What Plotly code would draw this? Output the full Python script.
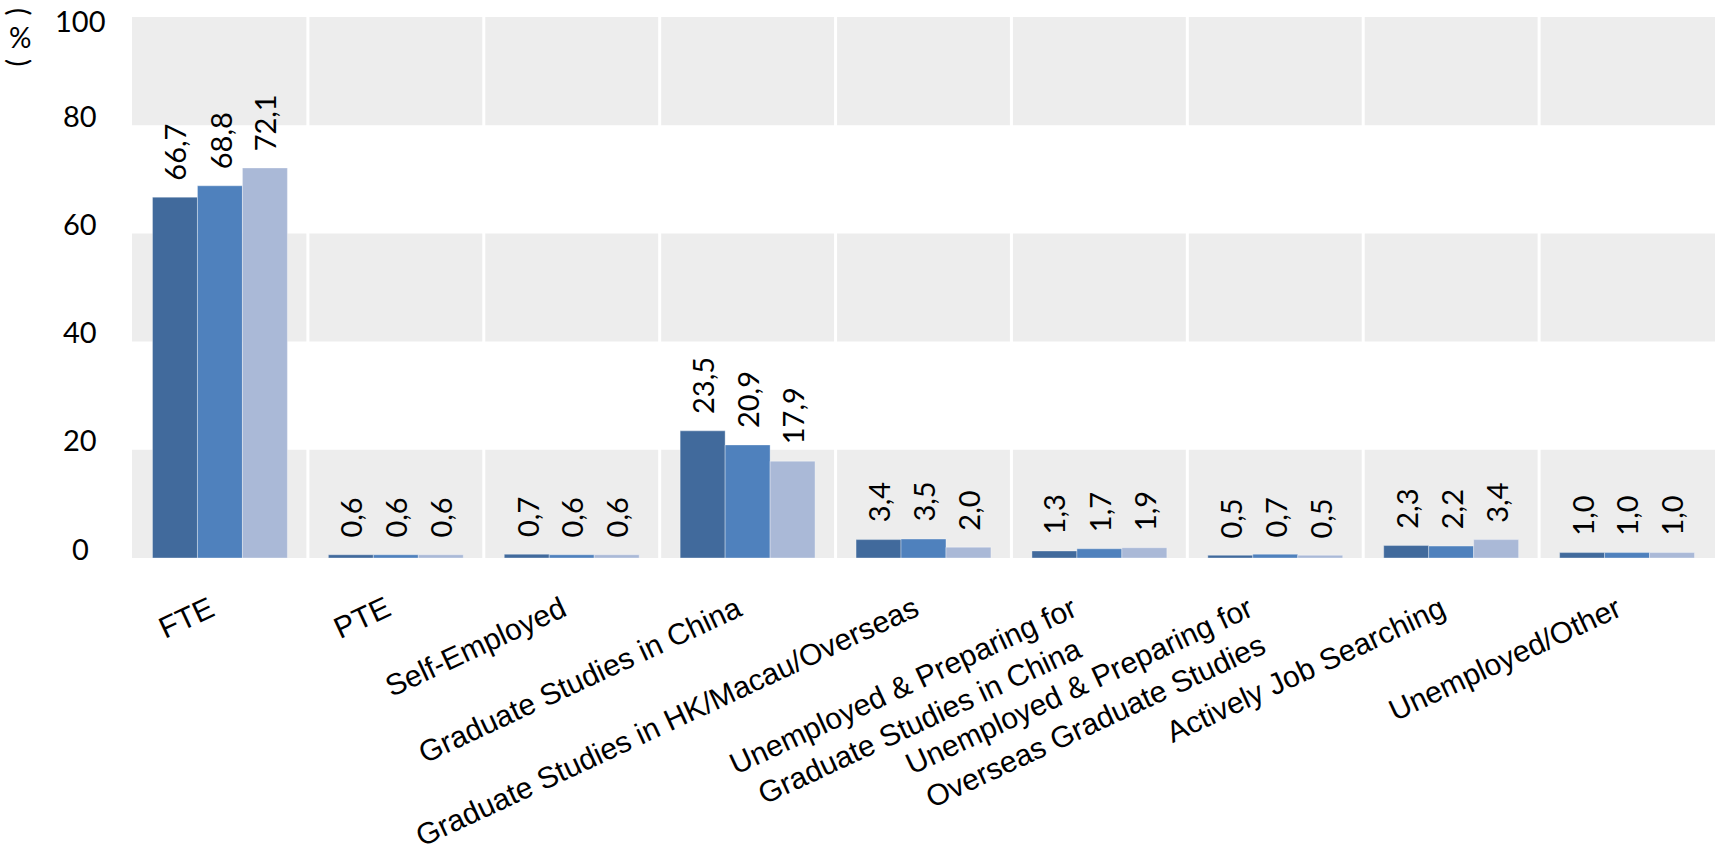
import plotly.graph_objects as go

# Graduate destinations, three cohorts (%)
categories = [
    "FTE",
    "PTE",
    "Self-Employed",
    "Graduate Studies in China",
    "Graduate Studies in HK/Macau/Overseas",
    "Unemployed & Preparing for<br>Graduate Studies in China",
    "Unemployed & Preparing for<br>Overseas Graduate Studies",
    "Actively Job Searching",
    "Unemployed/Other",
]
cohort_1 = [66.7, 0.6, 0.7, 23.5, 3.4, 1.3, 0.5, 2.3, 1.0]
cohort_2 = [68.8, 0.6, 0.6, 20.9, 3.5, 1.7, 0.7, 2.2, 1.0]
cohort_3 = [72.1, 0.6, 0.6, 17.9, 2.0, 1.9, 0.5, 3.4, 1.0]
y_ticks = [0, 20, 40, 60, 80, 100]

series = [
    ("Cohort 1", cohort_1, "#416A9C"),
    ("Cohort 2", cohort_2, "#4F81BD"),
    ("Cohort 3", cohort_3, "#AAB9D7"),
]

W, H = 1715, 865
M_L, M_R, M_T, M_B = 132, 0, 17, 307
BARGAP = 0.233
bar_w = (1 - BARGAP) / len(series)

label_font = "Lato, 'Open Sans', sans-serif"
cat_font = "'Liberation Sans', Arial, sans-serif"

x_idx = list(range(len(categories)))

fig = go.Figure()
for name, vals, color in series:
    fig.add_trace(go.Bar(
        x=x_idx, y=vals, name=name,
        marker=dict(color=color, line=dict(color="rgba(255,255,255,0.35)", width=1)),
        showlegend=False, hoverinfo="y",
    ))

shapes = []
# alternating grey bands behind the bars
for lo, hi in [(0, 20), (40, 60), (80, 100)]:
    shapes.append(dict(type="rect", xref="paper", yref="y", x0=0, x1=1, y0=lo, y1=hi,
                       fillcolor="#EDEDED", line=dict(width=0), layer="below"))
# white separators between categories
for i in range(len(categories) - 1):
    shapes.append(dict(type="line", xref="x", yref="y", x0=i + 0.5, x1=i + 0.5, y0=0, y1=100,
                       line=dict(color="white", width=3), layer="below"))

annotations = []
# value labels, rotated, decimal comma
for k, (name, vals, color) in enumerate(series):
    off = (k - (len(series) - 1) / 2) * bar_w
    for i, v in enumerate(vals):
        annotations.append(dict(
            x=i + off, y=v, xref="x", yref="y",
            text=f"{v:.1f}".replace(".", ","),
            textangle=-90, showarrow=False,
            xanchor="center", yanchor="bottom", yshift=15,
            font=dict(family=label_font, size=29, color="#000000"),
        ))

# category labels
for i, c in enumerate(categories):
    annotations.append(dict(
        x=i, y=0, xref="x", yref="y", text=c, textangle=-25, showarrow=False,
        xanchor="right", yanchor="top", yshift=-30, xshift=2, align="center",
        font=dict(family=cat_font, size=30, color="#000000"),
    ))

# y tick labels (sit slightly above their gridlines)
plot_w = W - M_L - M_R
for t in y_ticks:
    annotations.append(dict(
        x=(80 - M_L) / plot_w, y=t, xref="paper", yref="y", text=str(t), showarrow=False,
        xanchor="center", yanchor="middle", yshift=-3 if t == 100 else 10,
        font=dict(family=label_font, size=29, color="#000000"),
    ))

# vertical unit label "(%)"
plot_h = H - M_T - M_B
def py(pix):
    return (H - M_B - pix) / plot_h
unit_left = (1 - M_L) / plot_w
annotations += [
    dict(x=unit_left, y=py(11), xref="paper", yref="paper", text="(", textangle=90, showarrow=False,
         xanchor="left", yanchor="middle", font=dict(family=label_font, size=28, color="#000000")),
    dict(x=(20 - M_L) / plot_w, y=py(37), xref="paper", yref="paper", text="%", showarrow=False,
         xanchor="center", yanchor="middle", font=dict(family=label_font, size=28, color="#000000")),
    dict(x=unit_left, y=py(62), xref="paper", yref="paper", text=")", textangle=90, showarrow=False,
         xanchor="left", yanchor="middle", font=dict(family=label_font, size=28, color="#000000")),
]

fig.update_layout(
    width=W, height=H,
    margin=dict(l=M_L, r=M_R, t=M_T, b=M_B, pad=0),
    paper_bgcolor="white", plot_bgcolor="white",
    barmode="group", bargap=BARGAP, bargroupgap=0,
    shapes=shapes, annotations=annotations,
    xaxis=dict(range=[-0.5, len(categories) - 0.5], showticklabels=False, showgrid=False,
               zeroline=False, showline=False, ticks="", fixedrange=True),
    yaxis=dict(range=[0, 100], showticklabels=False, showgrid=False, zeroline=False,
               showline=False, ticks="", fixedrange=True),
)

fig.write_html("out.html")
